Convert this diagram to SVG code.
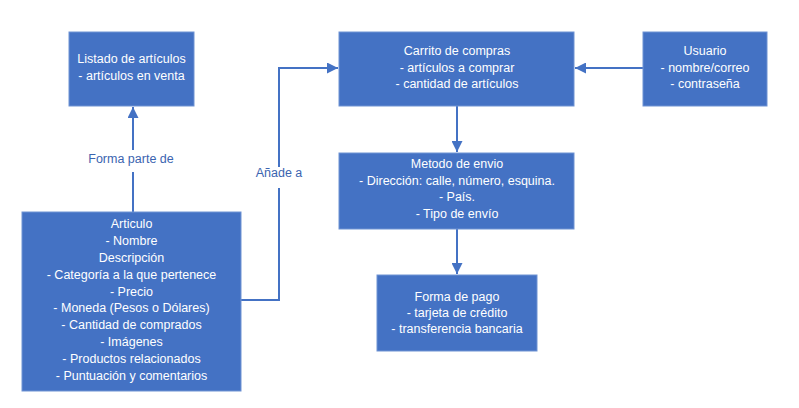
<svg xmlns="http://www.w3.org/2000/svg" width="799" height="408" viewBox="0 0 799 408">
<defs>
<style>
.box{fill:#4472C4;stroke:#6F93D3;stroke-width:1}
.t{font-family:"Liberation Sans",Arial,sans-serif;font-size:12.5px;fill:#ffffff;text-anchor:middle}
.conn{fill:none;stroke:#4472C4;stroke-width:2}
.lbl{font-family:"Liberation Sans",Arial,sans-serif;font-size:12.5px;fill:#3B64B0;text-anchor:middle}
</style>
<marker id="ah" viewBox="0 0 10 10" refX="10" refY="5" markerWidth="5.5" markerHeight="5.5" orient="auto" markerUnits="strokeWidth">
<path d="M0,0 L10,5 L0,10 Z" fill="#4472C4"/>
</marker>
</defs>
<rect width="799" height="408" fill="#ffffff"/>
<g id="connectors">
<path class="conn" d="M133,212 V172 M133,150 V107" marker-end="url(#ah)"/>
<text class="lbl" x="131" y="163">Forma parte de</text>
<path class="conn" d="M241,300 H279 V188"/>
<path class="conn" d="M279,167 V68 H338" marker-end="url(#ah)"/>
<text class="lbl" x="279" y="177">Añade a</text>
<path class="conn" d="M643,68 H575" marker-end="url(#ah)"/>
<path class="conn" d="M457,106 V152" marker-end="url(#ah)"/>
<path class="conn" d="M457,229 V274" marker-end="url(#ah)"/>
</g>
<g id="listado">
<rect class="box" x="69" y="32" width="125" height="74"/>
<text class="t" x="131.5" y="63">Listado de artículos</text>
<text class="t" x="131.5" y="80">- artículos en venta</text>
</g>
<g id="carrito">
<rect class="box" x="339" y="32" width="235" height="74"/>
<text class="t" x="457" y="55">Carrito de compras</text>
<text class="t" x="457" y="72">- artículos a comprar</text>
<text class="t" x="457" y="88">- cantidad de artículos</text>
</g>
<g id="usuario">
<rect class="box" x="643" y="32" width="124" height="74"/>
<text class="t" x="705" y="55">Usuario</text>
<text class="t" x="705" y="72">- nombre/correo</text>
<text class="t" x="705" y="88">- contraseña</text>
</g>
<g id="metodo">
<rect class="box" x="339" y="153" width="235" height="76"/>
<text class="t" x="457" y="168">Metodo de envio</text>
<text class="t" x="457" y="185">- Dirección: calle, número, esquina.</text>
<text class="t" x="457" y="201">- País.</text>
<text class="t" x="457" y="218">- Tipo de envío</text>
</g>
<g id="pago">
<rect class="box" x="377" y="275" width="160" height="76"/>
<text class="t" x="457" y="301">Forma de pago</text>
<text class="t" x="457" y="317">- tarjeta de crédito</text>
<text class="t" x="457" y="333">- transferencia bancaria</text>
</g>
<g id="articulo">
<rect class="box" x="22" y="212" width="219" height="179"/>
<text class="t" x="131.5" y="228">Articulo</text>
<text class="t" x="131.5" y="245">- Nombre</text>
<text class="t" x="131.5" y="262">Descripción</text>
<text class="t" x="131.5" y="279">- Categoría a la que pertenece</text>
<text class="t" x="131.5" y="296">- Precio</text>
<text class="t" x="131.5" y="312">- Moneda (Pesos o Dólares)</text>
<text class="t" x="131.5" y="329">- Cantidad de comprados</text>
<text class="t" x="131.5" y="346">- Imágenes</text>
<text class="t" x="131.5" y="363">- Productos relacionados</text>
<text class="t" x="131.5" y="380">- Puntuación y comentarios</text>
</g>
</svg>
